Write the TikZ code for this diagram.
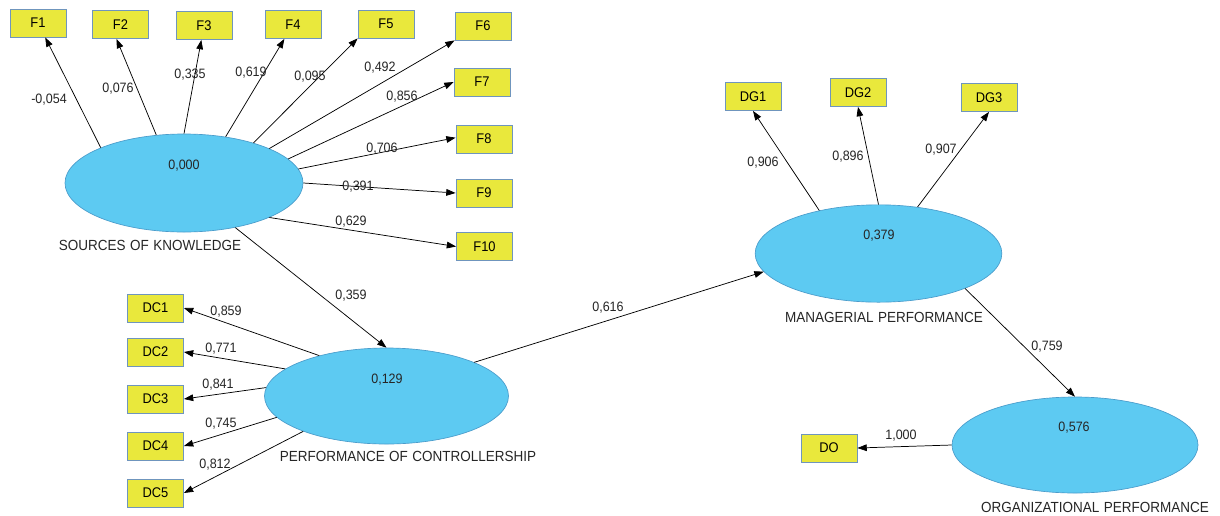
\documentclass[tikz,border=0pt]{standalone}
\usepackage{fontspec}
\setmainfont{Liberation Sans}
\newfontfamily\condfont[FakeStretch=0.92]{Liberation Sans}
\newfontfamily\capfont[FakeStretch=0.92,WordSpace=1.2]{Liberation Sans}
\usetikzlibrary{shapes.geometric,arrows.meta,calc}
\definecolor{ellfill}{HTML}{5DCAF2}
\definecolor{elldraw}{HTML}{4A9CCB}
\definecolor{boxfill}{HTML}{E9E83C}
\definecolor{boxdraw}{HTML}{6F95BD}
\definecolor{txt}{HTML}{262626}
\tikzset{
  ind/.style={draw=boxdraw, fill=boxfill, line width=0.6pt, minimum width=42pt, minimum height=21pt, inner sep=0pt, text=black, font=\condfont\fontsize{10.5}{12}\selectfont},
  lat/.style={ellipse, draw=elldraw, fill=ellfill, line width=0.5pt, inner sep=0pt},
  val/.style={text=txt, font=\condfont\fontsize{10.2}{12}\selectfont, inner sep=0pt},
  captext/.style={text=txt, font=\capfont\fontsize{11}{13}\selectfont, inner sep=0pt},
  conn/.style={draw=black, line width=0.55pt, -{Triangle[length=7pt,width=5pt]}},
}
\begin{document}
\begin{tikzpicture}[x=0.75pt,y=-0.75pt]
\fill[white] (0,0) rectangle (1220,515);
\useasboundingbox (0,0) rectangle (1220,515);

% latent variables
\node[lat, minimum width=178.5pt, minimum height=73.5pt] (sk) at (184,183) {};
\node[lat, minimum width=183pt, minimum height=72pt] (pc) at (386.5,396) {};
\node[lat, minimum width=185pt, minimum height=73pt] (mp) at (878.5,253.5) {};
\node[lat, minimum width=184.5pt, minimum height=72pt] (op) at (1075,445) {};

\node[val] (skv) at (184,166) {0,000};
\node[val] (pcv) at (387,380) {0,129};
\node[val] (mpv) at (879,236) {0,379};
\node[val] (opv) at (1074,428) {0,576};

\node[captext] (skc) at (150,245) {SOURCES OF KNOWLEDGE};
\node[captext] (pcc) at (408,456) {PERFORMANCE OF CONTROLLERSHIP};
\node[captext] (mpc) at (884,317) {MANAGERIAL PERFORMANCE};
\node[captext] (opc) at (1095,507) {ORGANIZATIONAL PERFORMANCE};

% indicators
\node[ind] (f1) at (38,23) {F1};
\node[ind] (f2) at (120.5,24.5) {F2};
\node[ind] (f3) at (204,25.5) {F3};
\node[ind] (f4) at (293,24.5) {F4};
\node[ind] (f5) at (386,24) {F5};
\node[ind] (f6) at (483,26) {F6};
\node[ind] (f7) at (482,82) {F7};
\node[ind] (f8) at (484,139) {F8};
\node[ind] (f9) at (484,193) {F9};
\node[ind] (f10) at (484.5,246.5) {F10};

\node[ind] (dc1) at (155.5,308) {DC1};
\node[ind] (dc2) at (155.5,352) {DC2};
\node[ind] (dc3) at (155.5,399) {DC3};
\node[ind] (dc4) at (155.5,446) {DC4};
\node[ind] (dc5) at (155.5,493) {DC5};

\node[ind] (dg1) at (753,96.5) {DG1};
\node[ind] (dg2) at (858,92.5) {DG2};
\node[ind] (dg3) at (989,97.5) {DG3};
\node[ind] (do) at (829,448) {DO};

% connectors SK
\draw[conn] (sk.157.6) -- (f1);
\draw[conn] (sk.120.3) -- ([xshift=-3pt]f2.south);
\draw[conn] (sk.90) -- (f3);
\draw[conn] (sk.48.4) -- (f4);
\draw[conn] (sk.30.1) -- (f5.south west);
\draw[conn] (sk.22.4) -- (f6.south west);
\draw[conn] (sk.13.1) -- (f7.west);
\draw[conn] (sk.7.4) -- ([yshift=1pt]f8.west);
\draw[conn] (sk.0) -- (f9.west);
\draw[conn] (sk.-22.4) -- (f10.west);

% connectors PC
\draw[conn] (pc.149.1) -- (dc1.east);
\draw[conn] (pc.165.2) -- (dc2.east);
\draw[conn] (pc.176.2) -- (dc3.east);
\draw[conn] (pc.-169.2) -- (dc4.east);
\draw[conn] (pc.-157.4) -- (dc5.east);

% structural
\draw[conn] (sk.-41) -- (pc.north);
\draw[conn] (pc.21.4) -- (mp.189.5);
\draw[conn] (mp.-22.1) -- (op.north);

% MP indicators
\draw[conn] (mp.144.8) -- (dg1.south);
\draw[conn] (mp.90) -- (dg2.south);
\draw[conn] (mp.50.4) -- (dg3.south);

% OP indicator
\draw[conn] (op.west) -- (do.east);

% path coefficient labels
\node[val] (l1) at (49,100) {-0,054};
\node[val] (l2) at (118,89) {0,076};
\node[val] (l3) at (190,75) {0,335};
\node[val] (l4) at (251,73) {0,619};
\node[val] (l5) at (310,77) {0,095};
\node[val] (l6) at (380,68) {0,492};
\node[val] (l7) at (402,97) {0,856};
\node[val] (l8) at (382,149) {0,706};
\node[val] (l9) at (358,187) {0,391};
\node[val] (l10) at (351,222) {0,629};

\node[val] (l11) at (226,312) {0,859};
\node[val] (l12) at (221,349) {0,771};
\node[val] (l13) at (218,385) {0,841};
\node[val] (l14) at (221,424) {0,745};
\node[val] (l15) at (215,465) {0,812};

\node[val] (l16) at (351,296) {0,359};
\node[val] (l17) at (608,308) {0,616};
\node[val] (l18) at (763,163) {0,906};
\node[val] (l19) at (848,157) {0,896};
\node[val] (l20) at (941,150) {0,907};
\node[val] (l21) at (1047,347) {0,759};
\node[val] (l22) at (901,436) {1,000};
\end{tikzpicture}
\end{document}
